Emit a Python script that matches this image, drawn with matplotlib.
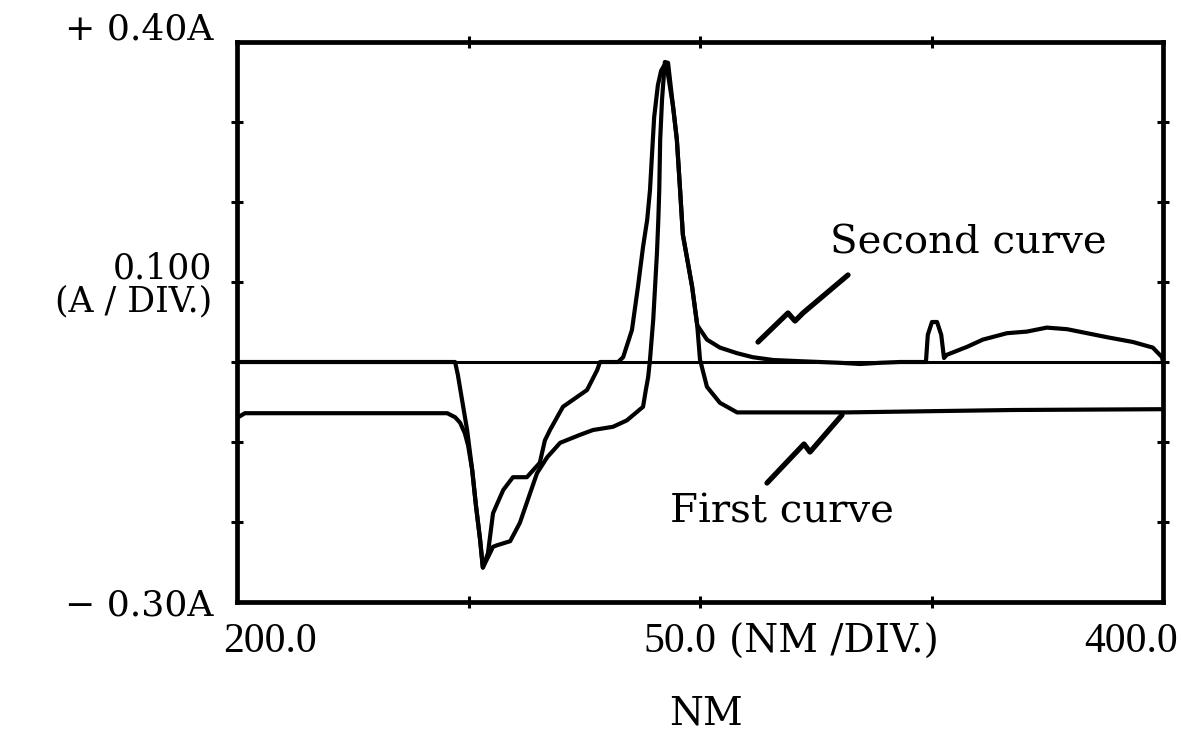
import matplotlib
matplotlib.use("Agg")
import matplotlib.pyplot as plt
import numpy as np

# ---- data (wavelength in nm, absorbance in A) ----
second_x = [200.0, 247.1, 247.7, 248.8, 249.7, 250.8, 251.6, 252.5, 253.1, 254.2, 255.3, 257.5, 259.6,
            262.6, 265.4, 266.5, 267.6, 270.4, 275.6, 277.8, 278.4, 282.3, 283.4, 285.3, 286.6, 287.7,
            288.6, 289.2, 289.6, 290.1, 290.9, 291.6, 292.2, 292.9, 294.2, 295.0, 295.7, 296.3, 297.2,
            298.3, 299.4, 301.5, 304.3, 308.0, 311.4, 315.8, 321.6, 330.2, 334.6, 338.9, 343.2, 348.8,
            349.2, 350.1, 351.2, 352.1, 352.7, 353.3, 357.7, 361.1, 366.3, 370.6, 374.9, 379.3, 383.6,
            387.9, 393.5, 397.8, 399.8, 400.0]
second_y = [0.0, 0.0, -0.016, -0.054, -0.085, -0.135, -0.179, -0.222, -0.257, -0.239, -0.189, -0.160,
            -0.144, -0.144, -0.126, -0.098, -0.085, -0.056, -0.035, -0.010, 0.0, 0.0, 0.006, 0.040,
            0.094, 0.144, 0.178, 0.215, 0.256, 0.306, 0.346, 0.364, 0.370, 0.366, 0.319, 0.278, 0.215,
            0.159, 0.130, 0.094, 0.046, 0.028, 0.018, 0.011, 0.006, 0.0025, 0.001, -0.001, -0.0025,
            -0.001, 0.0, 0.0, 0.034, 0.050, 0.050, 0.034, 0.005, 0.009, 0.019, 0.028, 0.036, 0.038,
            0.043, 0.041, 0.036, 0.031, 0.025, 0.018, 0.006, 0.0]

first_x = [200.0, 201.7, 245.4, 247.1, 248.2, 249.2, 249.9, 250.8, 251.6, 252.5, 253.1, 255.3, 256.2,
           259.0, 261.1, 263.3, 264.8, 267.0, 269.8, 274.1, 276.9, 281.2, 284.2, 287.7, 288.3, 288.8,
           289.2, 289.9, 290.7, 291.0, 291.2, 291.4, 291.8, 292.4, 293.1, 294.0, 295.0, 295.7, 296.3,
           297.2, 298.3, 299.4, 300.0, 301.5, 304.3, 308.0, 313.0, 331.7, 367.6, 400.0]
first_y = [-0.070, -0.064, -0.064, -0.069, -0.076, -0.089, -0.104, -0.135, -0.179, -0.222, -0.257,
           -0.231, -0.229, -0.224, -0.201, -0.164, -0.139, -0.119, -0.101, -0.091, -0.085, -0.081,
           -0.073, -0.056, -0.035, -0.019, 0.003, 0.053, 0.136, 0.178, 0.215, 0.278, 0.328, 0.375,
           0.374, 0.328, 0.278, 0.215, 0.159, 0.130, 0.094, 0.046, 0.003, -0.031, -0.051, -0.063,
           -0.063, -0.063, -0.060, -0.059]

zero_level = 0.0
x_range = [200.0, 400.0]
y_range = [-0.30, 0.40]
x_ticks = [250.0, 300.0, 350.0]
y_ticks = [-0.2, -0.1, 0.0, 0.1, 0.2, 0.3]

y_top_label = "+ 0.40A"
y_bottom_label = "\u2212 0.30A"
y_scale_label = "0.100"
y_unit_label = "(A / DIV.)"
x_left_label = "200.0"
x_scale_num = "50.0"
x_scale_unit = "(NM /DIV.)"
x_right_label = "400.0"
x_title = "NM"
label_second = "Second curve"
label_first = "First curve"

# ---- figure ----
W, H = 1181, 744
fig = plt.figure(figsize=(W / 100, H / 100), dpi=100)
L, R, T, B = 237, 1163, 42, 602
ax = fig.add_axes([L / W, 1 - B / H, (R - L) / W, (B - T) / H])
ax.set_xlim(*x_range)
ax.set_ylim(*y_range)

for s in ax.spines.values():
    s.set_linewidth(3.4)
ax.set_xticks(x_ticks)
ax.set_yticks(y_ticks)
ax.tick_params(direction="inout", length=9, width=2.2, top=True, right=True,
               labelbottom=False, labelleft=False)

ax.axhline(zero_level, color="black", lw=2.2)
ax.plot(second_x, second_y, color="black", lw=3.0, solid_joinstyle="round")
ax.plot(first_x, first_y, color="black", lw=3.0, solid_joinstyle="round")

def px(x, y):
    return ((x - L) / (R - L), (B - y) / (B - T))

# leader lines (axes fraction)
lead2 = [px(848, 275), px(803, 313), px(795, 321), px(788, 313), px(758, 342)]
lead1 = [px(842, 415), px(810, 452), px(804, 444), px(767, 483)]
for pts in (lead2, lead1):
    xs, ys = zip(*pts)
    ax.plot(xs, ys, transform=ax.transAxes, color="black", lw=3.8,
            solid_capstyle="round", solid_joinstyle="round", clip_on=False)

serif_wide = "DejaVu Serif"
serif_narrow = "Liberation Serif"

def ftext(x, y, s, **kw):
    fig.text(x / W, 1 - y / H, s, **kw)

ax.text(*px(830, 243), label_second, transform=ax.transAxes, fontsize=29,
        family=serif_wide, va="center", ha="left")
ax.text(*px(670, 512), label_first, transform=ax.transAxes, fontsize=29,
        family=serif_wide, va="center", ha="left")

ftext(213, 30, y_top_label, fontsize=26, family=serif_wide, ha="right", va="center")
ftext(212, 285, y_scale_label + "\n" + y_unit_label, fontsize=25, family=serif_wide,
      ha="right", va="center", multialignment="right", linespacing=0.95)
ftext(213, 605, y_bottom_label, fontsize=26, family=serif_wide, ha="right", va="center")

ftext(223, 642, x_left_label, fontsize=30, family=serif_narrow, ha="left", va="center")
ftext(643, 642, x_scale_num, fontsize=30, family=serif_narrow, ha="left", va="center")
ftext(729, 642, x_scale_unit, fontsize=28, family=serif_wide, ha="left", va="center")
ftext(1178, 642, x_right_label, fontsize=30, family=serif_narrow, ha="right", va="center")
ftext(706, 714, x_title, fontsize=28, family=serif_wide, ha="center", va="center")

fig.savefig("out.png", dpi=100, facecolor="white")
